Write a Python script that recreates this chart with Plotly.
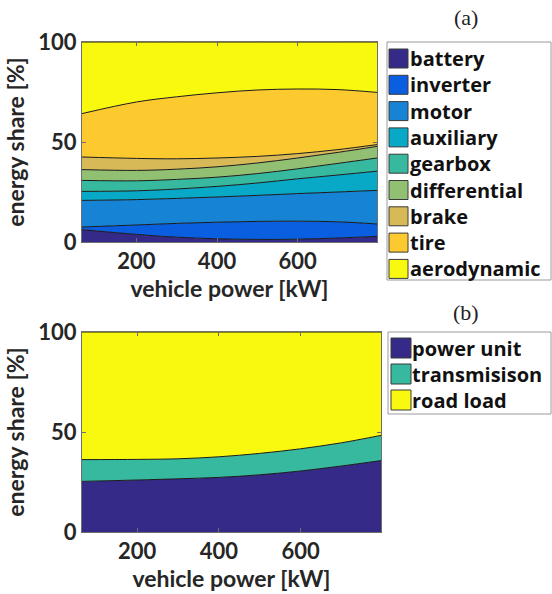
import plotly.graph_objects as go

W, H = 552, 594

# vehicle power samples [kW]
power = [65, 200, 300, 400, 500, 600, 700, 797]

# (a) component energy shares [%]
battery = [6.2, 3.8, 2.4, 1.6, 1.3, 1.4, 2.0, 2.8]
inverter = [1.3, 4.7, 6.9, 8.3, 9.0, 9.0, 8.1, 6.2]
motor = [13.3, 12.7, 12.5, 12.6, 13.0, 13.8, 14.9, 16.8]
auxiliary = [4.5, 4.4, 4.7, 5.3, 6.2, 7.4, 8.5, 9.6]
gearbox = [5.5, 5.0, 4.8, 4.6, 4.7, 5.0, 5.8, 6.6]
differential = [5.4, 5.2, 5.1, 5.2, 5.3, 5.4, 5.5, 5.8]
brake = [6.3, 6.0, 5.2, 4.4, 3.3, 2.2, 1.4, 0.9]
tire = [21.7, 28.2, 31.0, 32.6, 33.2, 32.3, 30.0, 26.1]
aerodynamic = [35.8, 30.0, 27.4, 25.4, 24.0, 23.5, 23.8, 25.2]

# (b) grouped energy shares [%]
power_unit = [25.3, 26.0, 26.6, 27.3, 28.6, 30.5, 33.0, 35.7]
transmission = [10.9, 10.3, 10.0, 10.3, 10.7, 11.1, 11.6, 12.6]
road_load = [63.8, 63.7, 63.4, 62.4, 60.7, 58.4, 55.4, 51.7]

names_a = ["battery", "inverter", "motor", "auxiliary", "gearbox",
           "differential", "brake", "tire", "aerodynamic"]
series_a = [battery, inverter, motor, auxiliary, gearbox,
            differential, brake, tire, aerodynamic]
colors_a = ["#352a87", "#0a5fe0", "#1683d4", "#08a8c7", "#36b99f",
            "#92c073", "#d7b957", "#fcca2f", "#f8f90f"]

names_b = ["power unit", "transmisison", "road load"]
series_b = [power_unit, transmission, road_load]
colors_b = ["#352a87", "#36b99f", "#f8f90f"]

x_ticks = [200, 400, 600]
y_ticks = [0, 50, 100]

FONT = "Lato"
LEG_FONT = "Open Sans"
TXT = "#262626"


def px_x(p):
    return p / W


def px_y(p):
    return 1 - p / H


fig = go.Figure()

for name, vals, col in zip(names_a, series_a, colors_a):
    fig.add_trace(go.Scatter(
        x=power, y=vals, name=name, mode="lines", stackgroup="a",
        line=dict(color="#1a1a1a", width=1, shape="spline", smoothing=1.0),
        fillcolor=col, xaxis="x", yaxis="y", showlegend=False,
        hoverinfo="skip"))

for name, vals, col in zip(names_b, series_b, colors_b):
    fig.add_trace(go.Scatter(
        x=power, y=vals, name=name, mode="lines", stackgroup="b",
        line=dict(color="#1a1a1a", width=1, shape="spline", smoothing=1.0),
        fillcolor=col, xaxis="x2", yaxis="y2", showlegend=False,
        hoverinfo="skip"))

axis_common = dict(
    showgrid=False, zeroline=False, showline=True, linecolor="#6e6e6e",
    linewidth=1, mirror="ticks", ticks="inside", ticklen=4,
    tickcolor="#6e6e6e", automargin=False,
    tickfont=dict(family=FONT, size=22, color=TXT, weight="bold"),
)
xtitle = dict(text="vehicle power [kW]", standoff=4,
              font=dict(family=FONT, size=23, color=TXT, weight="bold"))
ytitle = dict(text="energy share [%]", standoff=7,
              font=dict(family=FONT, size=23, color=TXT, weight="bold"))

fig.update_layout(
    width=W, height=H,
    margin=dict(l=0, r=0, t=0, b=0, autoexpand=False),
    paper_bgcolor="white", plot_bgcolor="white",
    xaxis=dict(axis_common, domain=[px_x(82), px_x(377)], range=[65, 797],
               tickvals=x_ticks, anchor="y", title=xtitle),
    yaxis=dict(axis_common, domain=[px_y(242), px_y(42)], range=[0, 100],
               tickvals=y_ticks, anchor="x", title=ytitle),
    xaxis2=dict(axis_common, domain=[px_x(82), px_x(381)], range=[65, 797],
                tickvals=x_ticks, anchor="y2", title=xtitle),
    yaxis2=dict(axis_common, domain=[px_y(532), px_y(332)], range=[0, 100],
                tickvals=y_ticks, anchor="x2", title=ytitle),
)

shapes = []
annotations = []


def legend_box(x0, y0, x1, y1, names, colors, first_y, step, sw_x0, sw_size, text_x):
    shapes.append(dict(type="rect", xref="paper", yref="paper",
                       x0=px_x(x0), x1=px_x(x1), y0=px_y(y1), y1=px_y(y0),
                       line=dict(color="#9a9a9a", width=1), fillcolor="white"))
    for i, (nm, col) in enumerate(zip(names, colors)):
        cy = first_y + step * i
        shapes.append(dict(type="rect", xref="paper", yref="paper",
                           x0=px_x(sw_x0), x1=px_x(sw_x0 + sw_size),
                           y0=px_y(cy + sw_size / 2), y1=px_y(cy - sw_size / 2),
                           line=dict(color="#3a3a3a", width=1), fillcolor=col))
        annotations.append(dict(xref="paper", yref="paper", x=px_x(text_x), y=px_y(cy),
                                text=nm, showarrow=False, xanchor="left", yanchor="middle",
                                borderpad=0,
                                font=dict(family=LEG_FONT, size=20, color="#111111",
                                          weight="bold")))


legend_box(387, 42, 551, 280, names_a, colors_a, 58.5, 26.3, 389, 19, 409)
legend_box(388, 332, 551, 414, names_b, colors_b, 348, 26, 391, 20, 411)

annotations.append(dict(xref="paper", yref="paper", x=px_x(466), y=px_y(17),
                        text="(a)", showarrow=False, xanchor="center", yanchor="middle",
                        font=dict(family="Liberation Serif", size=22, color="#222")))
annotations.append(dict(xref="paper", yref="paper", x=px_x(466), y=px_y(312),
                        text="(b)", showarrow=False, xanchor="center", yanchor="middle",
                        font=dict(family="Liberation Serif", size=22, color="#222")))

fig.update_layout(shapes=shapes, annotations=annotations)

fig.write_html("out.html")
